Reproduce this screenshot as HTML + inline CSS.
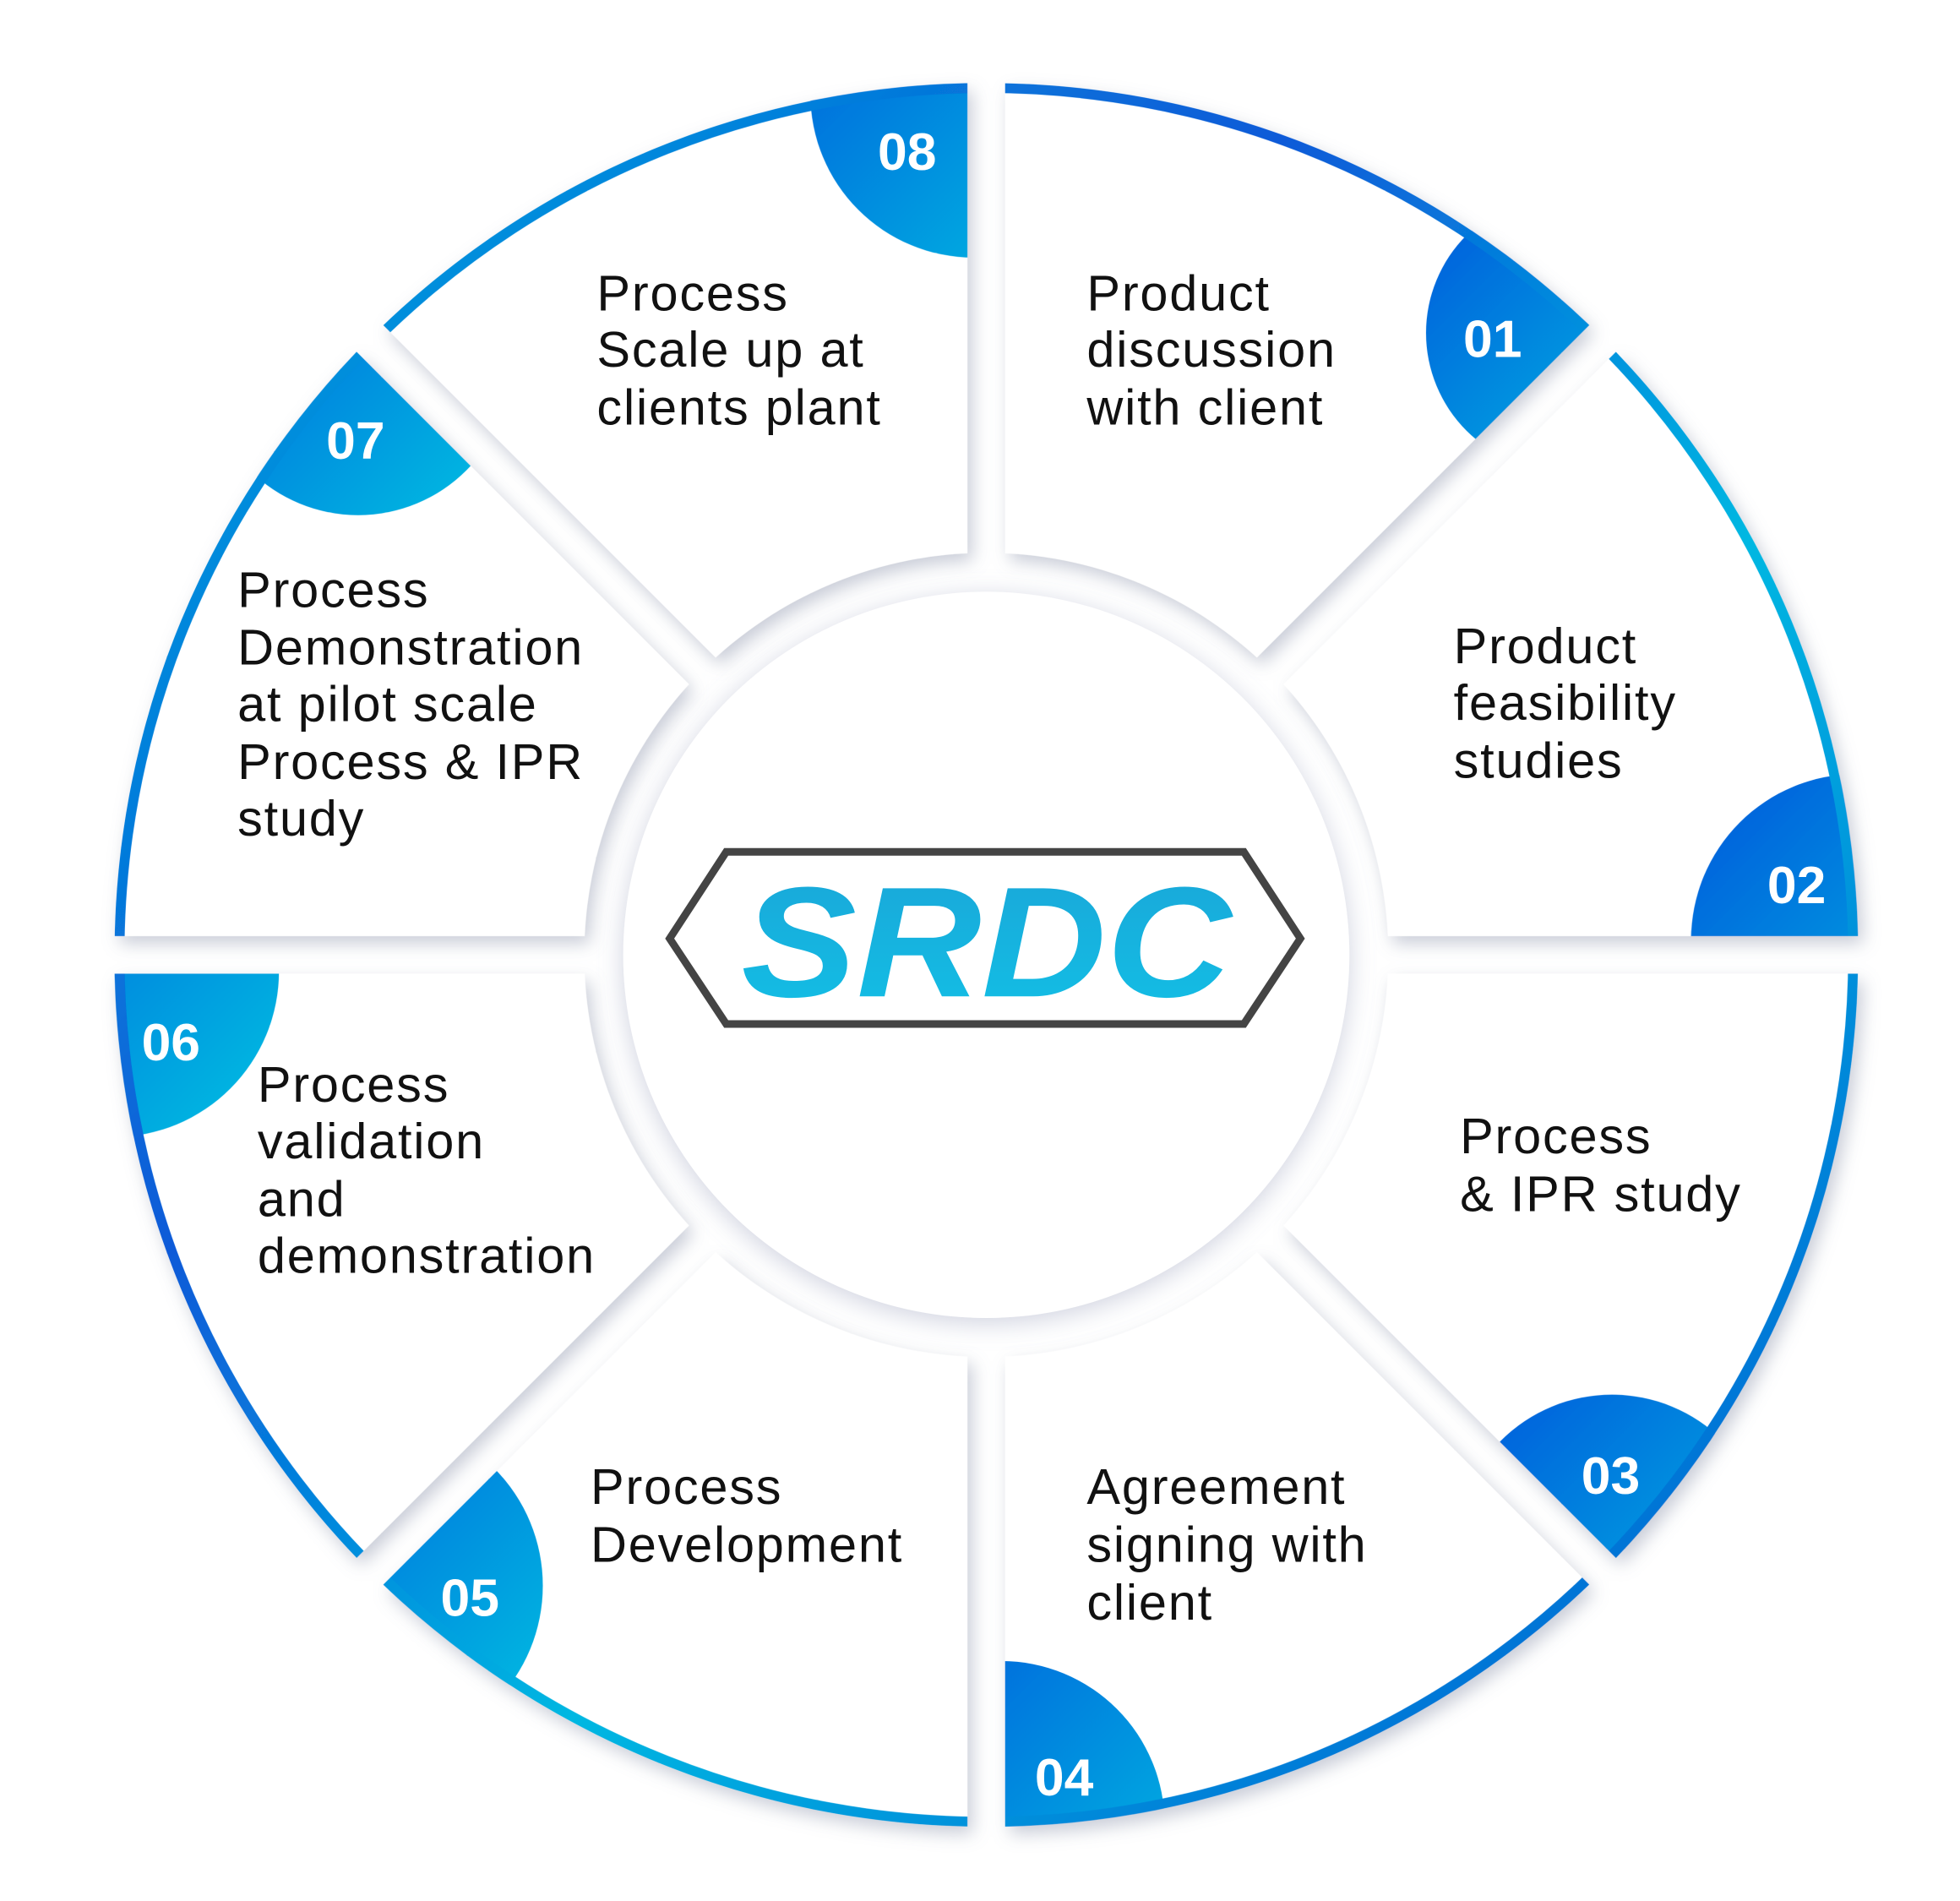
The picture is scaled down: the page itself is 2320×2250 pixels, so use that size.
<!DOCTYPE html>
<html><head><meta charset="utf-8"><style>
html,body{margin:0;padding:0;background:#fff;}
svg{display:block;}
.t{font-family:"Liberation Sans",sans-serif;font-size:40px;letter-spacing:1.2px;fill:#111;}
.n{font-family:"Liberation Sans",sans-serif;font-size:42px;font-weight:bold;fill:#fff;text-anchor:middle;}
</style></head><body>
<svg width="2320" height="2250" viewBox="0 0 1560 1513" xmlns="http://www.w3.org/2000/svg">
<defs>
<linearGradient id="rim" x1="0" y1="0" x2="1" y2="1">
<stop offset="0" stop-color="#00b4e0"/><stop offset="0.35" stop-color="#0a5ad8"/><stop offset="0.6" stop-color="#00b8e2"/><stop offset="1" stop-color="#0a4fd0"/>
</linearGradient>
<linearGradient id="bd" x1="0" y1="0" x2="1" y2="1">
<stop offset="0" stop-color="#0658dc"/><stop offset="1" stop-color="#00c2e2"/>
</linearGradient>
<linearGradient id="logo" x1="0" y1="0" x2="0" y2="1">
<stop offset="0" stop-color="#1aa6d8"/><stop offset="1" stop-color="#12c0e6"/>
</linearGradient>
<clipPath id="c1"><polygon points="785,760 785,-240 1492,53"/></clipPath>
<clipPath id="c2"><polygon points="785,760 1492,53 1785,760"/></clipPath>
<clipPath id="c3"><polygon points="785,760 1785,760 1492,1467"/></clipPath>
<clipPath id="c4"><polygon points="785,760 1492,1467 785,1760"/></clipPath>
<clipPath id="c5"><polygon points="785,760 785,1760 78,1467"/></clipPath>
<clipPath id="c6"><polygon points="785,760 78,1467 -215,760"/></clipPath>
<clipPath id="c7"><polygon points="785,760 -215,760 78,53"/></clipPath>
<clipPath id="c8"><polygon points="785,760 78,53 785,-240"/></clipPath>
<mask id="m">
<circle cx="785" cy="760" r="694" fill="#fff"/>
<circle cx="785" cy="760" r="320" fill="#000"/>
<g stroke="#000" stroke-width="30">
<line x1="785" y1="40" x2="785" y2="1480"/>
<line x1="60" y1="760" x2="1510" y2="760"/>
<line x1="270" y1="245" x2="1300" y2="1275"/>
<line x1="1300" y1="245" x2="270" y2="1275"/>
</g>
</mask>
<filter id="sh" x="-10%" y="-10%" width="120%" height="120%">
<feDropShadow dx="4" dy="6" stdDeviation="7" flood-color="#8890a8" flood-opacity="0.45"/>
</filter>
<filter id="sh2" x="-10%" y="-10%" width="120%" height="120%">
<feDropShadow dx="0" dy="4" stdDeviation="10" flood-color="#8890b0" flood-opacity="0.4"/>
</filter>
</defs>
<g filter="url(#sh)">
<g mask="url(#m)">
<circle cx="785" cy="760" r="694" fill="#fff"/>
<g fill="url(#bd)">
<circle cx="775" cy="75" r="130" clip-path="url(#c8)"/>
<circle cx="1245" cy="265" r="110" clip-path="url(#c1)"/>
<circle cx="1478" cy="748" r="132" clip-path="url(#c2)"/>
<circle cx="1283" cy="1235" r="125" clip-path="url(#c3)"/>
<circle cx="797" cy="1452" r="130" clip-path="url(#c4)"/>
<circle cx="300" cy="1262" r="132" clip-path="url(#c5)"/>
<circle cx="90" cy="773" r="132" clip-path="url(#c6)"/>
<circle cx="285" cy="288" r="122" clip-path="url(#c7)"/>
</g>
<circle cx="785" cy="760" r="690" fill="none" stroke="url(#rim)" stroke-width="8"/>
</g>
</g>
<circle cx="785" cy="760" r="289" fill="#fff" filter="url(#sh2)"/>
<polygon points="533,747 578,678 990,678 1035,747 990,815 578,815" fill="none" stroke="#444" stroke-width="6"/>
<text x="590" y="793" font-family="Liberation Sans,sans-serif" font-weight="bold" font-style="italic" font-size="125" fill="url(#logo)" textLength="390" lengthAdjust="spacingAndGlyphs">SRDC</text>
<g class="t">
<text x="475" y="247">Process</text><text x="475" y="292">Scale up at</text><text x="475" y="338">clients plant</text>
<text x="865" y="247">Product</text><text x="865" y="292">discussion</text><text x="865" y="338">with client</text>
<text x="1157" y="528">Product</text><text x="1157" y="573">feasibility</text><text x="1157" y="619">studies</text>
<text x="1162" y="918">Process</text><text x="1162" y="964">&amp; IPR study</text>
<text x="865" y="1197">Agreement</text><text x="865" y="1243">signing with</text><text x="865" y="1289">client</text>
<text x="470" y="1197">Process</text><text x="470" y="1243">Development</text>
<text x="205" y="877">Process</text><text x="205" y="922">validation</text><text x="205" y="968">and</text><text x="205" y="1013">demonstration</text>
<text x="189" y="483">Process</text><text x="189" y="529">Demonstration</text><text x="189" y="574">at pilot scale</text><text x="189" y="620">Process &amp; IPR</text><text x="189" y="665">study</text>
</g>
<g class="n">
<text x="722" y="135">08</text><text x="1188" y="284">01</text><text x="1430" y="719">02</text><text x="1282" y="1189">03</text>
<text x="847" y="1429">04</text><text x="374" y="1286">05</text><text x="136" y="844">06</text><text x="283" y="365">07</text>
</g>
</svg>
</body></html>
